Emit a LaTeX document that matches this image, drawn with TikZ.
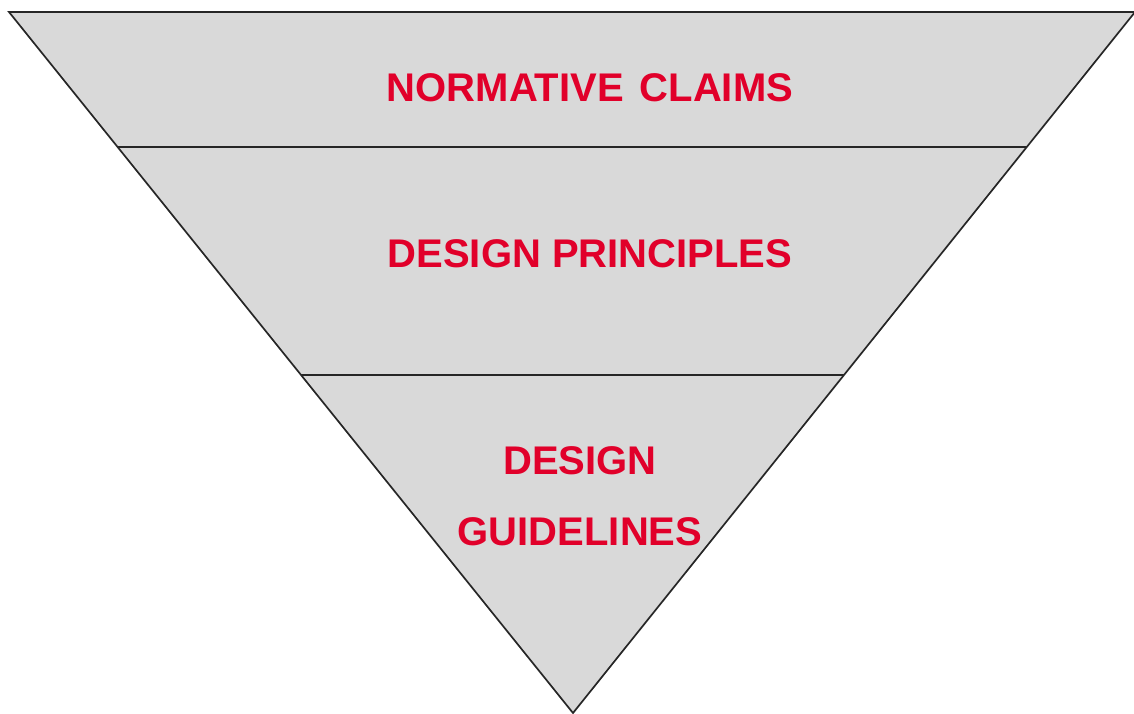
\documentclass[tikz,border=0pt]{standalone}
\usepackage{fontspec}
\setmainfont{Liberation Sans}
\usetikzlibrary{calc}
\definecolor{layerfill}{HTML}{D9D9D9}
\definecolor{labelred}{HTML}{E1002A}
\begin{document}
\begin{tikzpicture}[x=1pt,y=-1pt,
  edge/.style={line width=1.7pt,draw=black!85},
  label/.style={text=labelred,font=\fontsize{40}{46}\selectfont\bfseries,inner sep=0pt,anchor=base}]
\useasboundingbox (0,0) rectangle (1134,713);
% corners of the inverted pyramid
\coordinate (tl) at (9,12);
\coordinate (tr) at (1135,12);
\coordinate (apex) at (573,713);
\fill[layerfill] (tl) -- (tr) -- (apex) -- cycle;
% layer dividers, end points on the slanted edges
\coordinate (l1) at ($(tl)!0.1926!(apex)$);
\coordinate (r1) at ($(tr)!0.1926!(apex)$);
\coordinate (l2) at ($(tl)!0.5178!(apex)$);
\coordinate (r2) at ($(tr)!0.5178!(apex)$);
\draw[edge] (l1) -- (r1);
\draw[edge] (l2) -- (r2);
\draw[edge,line join=miter] (tl) -- (tr) -- (apex) -- cycle;
% layer labels
\node[label] (claims) at (590,101) {NORMATIVE\hspace{0.12em} CLAIMS};
\node[label] (principles) at (590,267) {DESIGN PRINCIPLES};
\node[label] (design) at (580,474) {DESIGN};
\node[label] (guidelines) at (580,545) {GUIDELINES};
\end{tikzpicture}
\end{document}
